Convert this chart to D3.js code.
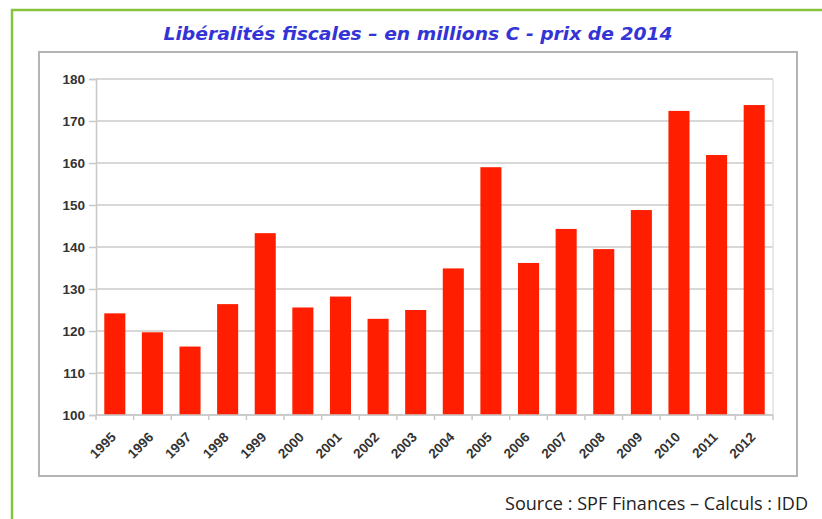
<!DOCTYPE html>
<html>
<head>
<meta charset="utf-8">
<script src="https://cdn.jsdelivr.net/npm/d3@7"></script>
<style>
  body { margin: 0; background: #fff; }
  svg { display: block; }
</style>
</head>
<body>
<div id="chart"></div>
<script>
// données
const years = ["1995","1996","1997","1998","1999","2000","2001","2002","2003",
               "2004","2005","2006","2007","2008","2009","2010","2011","2012"]
const values = [124.2, 119.7, 116.3, 126.4, 143.3, 125.6, 128.2, 122.9, 125.0,
                134.9, 159.0, 136.2, 144.3, 139.5, 148.8, 172.4, 161.9, 173.8]
const yTicks = [100, 110, 120, 130, 140, 150, 160, 170, 180]
const title = "Libéralités fiscales – en millions C - prix de 2014"
const source = "Source : SPF Finances – Calculs : IDD"

const width = 822, height = 519
const margin = {top: 79, right: 49, bottom: 104, left: 96}

const svg = d3.select("#chart").append("svg")
    .attr("width", width)
    .attr("height", height)

// cadre vert extérieur
svg.append("rect")
    .attr("x", 12).attr("y", 10)
    .attr("width", width + 20).attr("height", height + 20)
    .attr("fill", "none")
    .attr("stroke", "#86c440")
    .attr("stroke-width", 2.5)

// cadre gris du graphique
svg.append("rect")
    .attr("x", 39).attr("y", 52)
    .attr("width", 758).attr("height", 424)
    .attr("fill", "#fff")
    .attr("stroke", "#b4b4b4")
    .attr("stroke-width", 2)

svg.append("text")
    .attr("x", 418).attr("y", 40)
    .attr("text-anchor", "middle")
    .attr("textLength", 509)
    .attr("lengthAdjust", "spacingAndGlyphs")
    .style("font", "italic bold 18px 'DejaVu Sans', sans-serif")
    .attr("fill", "#3434d6")
    .text(title)

const x = d3.scaleBand()
    .domain(years)
    .range([margin.left, width - margin.right])
    .paddingInner(0.44)
    .paddingOuter(0.22)

const y = d3.scaleLinear()
    .domain([100, 180])
    .range([height - margin.bottom, margin.top])

// grille
svg.append("g")
    .selectAll("line")
    .data(yTicks)
    .enter().append("line")
    .attr("x1", margin.left).attr("x2", width - margin.right)
    .attr("y1", d => y(d)).attr("y2", d => y(d))
    .attr("stroke", "#d8d8d8")
    .attr("stroke-width", 1.8)

svg.append("line")
    .attr("x1", width - margin.right).attr("x2", width - margin.right)
    .attr("y1", margin.top).attr("y2", height - margin.bottom)
    .attr("stroke", "#e2e2e2")
    .attr("stroke-width", 1.5)

svg.append("g")
    .selectAll("rect")
    .data(values)
    .enter().append("rect")
    .attr("x", (d, i) => x(years[i]))
    .attr("y", d => y(d))
    .attr("width", x.bandwidth())
    .attr("height", d => y(100) - y(d))
    .attr("fill", "#ff1f00")

// axe Y
const yAxis = svg.append("g")
    .attr("transform", `translate(${margin.left},0)`)
    .call(d3.axisLeft(y).tickValues(yTicks).tickSize(7).tickPadding(4))
yAxis.select(".domain").attr("stroke", "#c8c8c8").attr("stroke-width", 1.5)
yAxis.selectAll(".tick line").attr("stroke", "#c8c8c8").attr("stroke-width", 1.5)
yAxis.selectAll("text")
    .attr("fill", "#333")
    .style("font", "bold 13.5px 'Liberation Sans', Arial, sans-serif")

// axe X : petites graduations entre les catégories
svg.append("g")
    .selectAll("line")
    .data(d3.range(years.length + 1))
    .enter().append("line")
    .attr("x1", i => margin.left + i * (width - margin.left - margin.right) / years.length)
    .attr("x2", i => margin.left + i * (width - margin.left - margin.right) / years.length)
    .attr("y1", y(100)).attr("y2", y(100) + 5)
    .attr("stroke", "#c8c8c8")
    .attr("stroke-width", 1.5)

svg.append("line")
    .attr("x1", margin.left).attr("x2", width - margin.right)
    .attr("y1", y(100)).attr("y2", y(100))
    .attr("stroke", "#c8c8c8")
    .attr("stroke-width", 1.5)

svg.append("g")
    .selectAll("text")
    .data(years)
    .enter().append("text")
    .attr("transform", d => `translate(${x(d) + x.bandwidth() / 2 + 2},${y(100) + 23}) rotate(-45)`)
    .attr("text-anchor", "end")
    .attr("fill", "#333")
    .style("font", "bold 13.5px 'Liberation Sans', Arial, sans-serif")
    .text(d => d)

svg.append("text")
    .attr("x", 808).attr("y", 510)
    .attr("text-anchor", "end")
    .attr("fill", "#222")
    .attr("textLength", 303)
    .attr("lengthAdjust", "spacingAndGlyphs")
    .style("font", "18.5px 'Liberation Sans Narrow', 'Open Sans', sans-serif")
    .text(source)
</script>
</body>
</html>
